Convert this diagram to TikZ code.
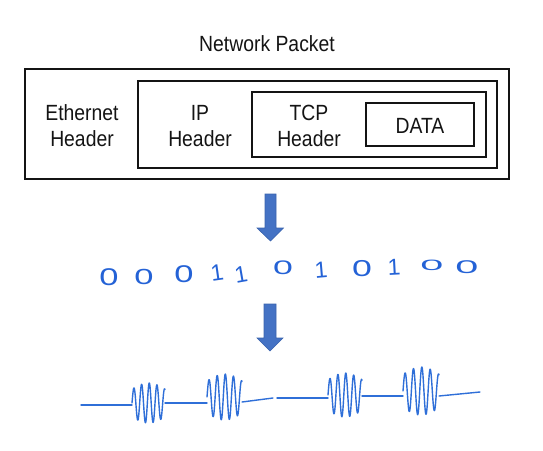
\documentclass[tikz,border=0pt]{standalone}
\usepackage{fontspec}
\setmainfont{Liberation Sans}[FakeStretch=0.88]
\newfontfamily\inkfont{Liberation Sans}
\definecolor{boxline}{HTML}{141414}
\definecolor{arrowblue}{HTML}{4472C4}
\definecolor{arrowedge}{HTML}{3A63AD}
\definecolor{inkblue}{HTML}{2462D6}
\definecolor{waveblue}{HTML}{2F6FD8}
\begin{document}
\begin{tikzpicture}[x=1pt,y=-1pt,
  pbox/.style={draw=boxline,line width=2pt,inner sep=0pt},
  lbl/.style={font=\fontsize{22}{26}\selectfont,align=center,text=boxline,inner sep=0pt},
  blockarrow/.style={fill=arrowblue,draw=arrowedge,line width=0.6pt,line join=miter},
  digit/.style={font=\inkfont\fontsize{23}{23}\selectfont,text=inkblue,inner sep=0pt},
  wave/.style={draw=waveblue,line width=1.4pt,line join=round,line cap=round}]
\useasboundingbox (0,0) rectangle (543,450);
% title
\node[lbl] (title) at (267,44) {Network Packet};
% nested boxes
\node[pbox,minimum width=484,minimum height=110] (packet) at (267,124) {};
\node[pbox,minimum width=359,minimum height=87] (ip) at (317.5,124.5) {};
\node[pbox,minimum width=234,minimum height=65] (tcp) at (369,124.5) {};
\node[pbox,minimum width=108,minimum height=43] (data) at (420,124.5) {};
\node[lbl] (eth) at (82,126) {Ethernet\\Header};
\node[lbl] (iph) at (200,126) {IP\\Header};
\node[lbl] (tcph) at (309,126) {TCP\\Header};
\node[lbl] (datal) at (420,126) {DATA};
% arrow 1
\coordinate (a1) at (270.5,194);
\fill[blockarrow] ([xshift=-5.5]a1) -- ++(0,34) -- ++(-8,0) -- (270.5,241) -- (283.5,228) -- ++(-7.5,0) -- ++(0,-34) -- cycle;
% bits
\node[digit] (b1) at (109,277) {\scalebox{1.5}[1.05]{0}};
\node[digit] (b2) at (144,277) {\scalebox{1.5}[0.95]{0}};
\node[digit] (b3) at (184,274) {\scalebox{1.5}[1.05]{0}};
\node[digit,rotate=8] (b4) at (217,273) {1};
\node[digit,rotate=10] (b5) at (241,275) {1};
\node[digit] (b6) at (283,268) {\scalebox{1.55}[0.85]{0}};
\node[digit,rotate=5] (b7) at (321,270) {1};
\node[digit] (b8) at (362,269) {\scalebox{1.55}[1]{0}};
\node[digit,rotate=3] (b9) at (394,267) {1};
\node[digit] (b10) at (432,265) {\scalebox{1.8}[0.65]{0}};
\node[digit] (b11) at (467,267) {\scalebox{1.8}[0.8]{0}};
% arrow 2
\coordinate (a2) at (270,304);
\fill[blockarrow] ([xshift=-6]a2) -- ++(0,34) -- ++(-7,0) -- (270,351) -- (283,338) -- ++(-7,0) -- ++(0,-34) -- cycle;
% waveform
\newcommand{\burst}[5]{% x0 x1 yc amplitude cycles
  \draw[wave] plot[domain=0:1,samples=140,smooth] ({#1+\x*(#2-#1)},{#3-#4*sin(\x*#5*360)*(0.7+0.3*sin(\x*180))});}
\draw[wave] (81,405) -- (132,405);
\burst{132}{165}{403}{20}{4.3}
\draw[wave] (165,403) -- (207,403);
\burst{207}{242}{397}{23}{4.3}
\draw[wave] (242,402) -- (273,398);
\draw[wave] (277,398) -- (328,398);
\burst{328}{362}{395}{22}{4.3}
\draw[wave] (362,396) -- (403,396);
\burst{403}{439}{391}{24}{4.3}
\draw[wave] (439,396) -- (480,392);
\end{tikzpicture}
\end{document}
